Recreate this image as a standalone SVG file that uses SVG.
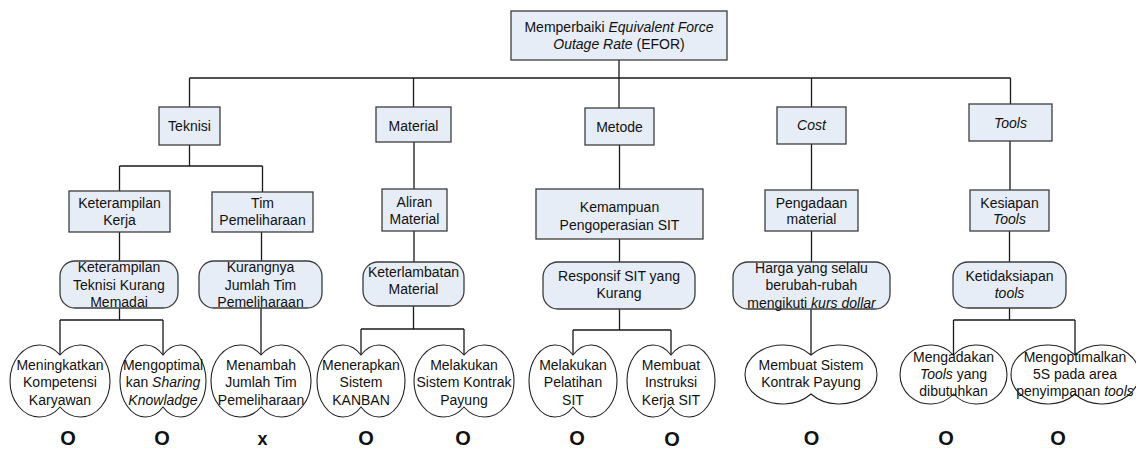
<svg xmlns="http://www.w3.org/2000/svg" width="1136" height="449" viewBox="0 0 1136 449">
<style>
text{font-family:"Liberation Sans",Arial,sans-serif;font-size:14px;fill:#111;text-anchor:middle}
.i{font-style:italic}
.box{fill:#e7edf7;stroke:#3c3c3c;stroke-width:1.3}
.cl{fill:#fff;stroke:#222;stroke-width:1.1}
.con{fill:none;stroke:#1a1a1a;stroke-width:1.3}
.mk{font-size:20px;font-weight:bold}
.mx{font-size:18px;font-weight:bold}
</style>
<rect width="1136" height="449" fill="#fff"/>
<g id="connectors" class="con">
<path d="M619 60V108M189.5 78H1010.5M189.5 78V107M413.5 78V107M811.5 78V107M1010.5 78V104"/>
<path d="M189.5 145V166M119.5 166H262.5M119.5 166V191M262.5 166V192M414 142V189M619.5 145V189M811.5 144V190M1010 141V190"/>
<path d="M119.5 232V261M261.5 232V261M414 231V262M619.5 239V262M811.5 231V262M1009.5 231V262"/>
<path d="M119.5 308V320M60 320H163M60 320V355M163 320V355M261 308V355M413.5 306V329M361 329H464M361 329V355M464 329V355M619.5 309V330M573 330H671M573 330V355M671 330V355M811 309V355M1009.5 308V320M953.5 320H1075M953.5 320V355M1075 320V355"/>
</g>
<g id="n-top"><rect class="box" x="511" y="11" width="216" height="49"/><text x="619" y="31.5">Memperbaiki <tspan class="i">Equivalent Force</tspan></text><text x="619" y="49"><tspan class="i">Outage Rate</tspan> (EFOR)</text></g>
<g id="n-teknisi"><rect class="box" x="159" y="107" width="61" height="38"/><text x="189.5" y="131">Teknisi</text></g>
<g id="n-material"><rect class="box" x="376" y="107" width="75" height="35"/><text x="413.5" y="130.5">Material</text></g>
<g id="n-metode"><rect class="box" x="585" y="108" width="69" height="37"/><text x="619.5" y="132">Metode</text></g>
<g id="n-cost"><rect class="box" x="777" y="107" width="69" height="37"/><text class="i" x="811.5" y="130">Cost</text></g>
<g id="n-tools"><rect class="box" x="969" y="104" width="83" height="37"/><text class="i" x="1010.5" y="127.5">Tools</text></g>
<g id="n-kk"><rect class="box" x="69" y="191" width="101" height="41"/><text x="119.5" y="207.5">Keterampilan</text><text x="119.5" y="225">Kerja</text></g>
<g id="n-tim"><rect class="box" x="212" y="192" width="101" height="40"/><text x="262.5" y="207.5">Tim</text><text x="262.5" y="225">Pemeliharaan</text></g>
<g id="n-aliran"><rect class="box" x="382" y="189" width="65" height="42"/><text x="414.5" y="206.5">Aliran</text><text x="414.5" y="223.5">Material</text></g>
<g id="n-kemampuan"><rect class="box" x="536" y="189" width="167" height="50"/><text x="619.5" y="211.5">Kemampuan</text><text x="619.5" y="229.5">Pengoperasian SIT</text></g>
<g id="n-pengadaan"><rect class="box" x="765" y="190" width="93" height="41"/><text x="811.5" y="207.5">Pengadaan</text><text x="811.5" y="224">material</text></g>
<g id="n-kesiapan"><rect class="box" x="970" y="190" width="79" height="41"/><text x="1009.5" y="207.5">Kesiapan</text><text class="i" x="1009.5" y="224">Tools</text></g>
<g id="n-kkm"><rect class="box" x="60" y="261" width="118" height="47" rx="15"/><text x="119" y="272">Keterampilan</text><text x="119" y="289.5">Teknisi Kurang</text><text x="119" y="307">Memadai</text></g>
<g id="n-kurangnya"><rect class="box" x="199" y="261" width="123" height="47" rx="15"/><text x="260.5" y="272">Kurangnya</text><text x="260.5" y="289.5">Jumlah Tim</text><text x="260.5" y="307">Pemeliharaan</text></g>
<g id="n-keterlambatan"><rect class="box" x="363" y="262" width="101" height="44" rx="15"/><text x="413.5" y="276.5">Keterlambatan</text><text x="413.5" y="294">Material</text></g>
<g id="n-responsif"><rect class="box" x="543" y="262" width="152" height="47" rx="15"/><text x="619" y="280.5">Responsif SIT yang</text><text x="619" y="298">Kurang</text></g>
<g id="n-harga"><rect class="box" x="733" y="262" width="157" height="47" rx="15"/><text x="811.5" y="272.5">Harga yang selalu</text><text x="811.5" y="290">berubah-rubah</text><text x="811.5" y="307.5">mengikuti <tspan class="i">kurs dollar</tspan></text></g>
<g id="n-ketidaksiapan"><rect class="box" x="953" y="262" width="113" height="46" rx="15"/><text x="1009.5" y="280.5">Ketidaksiapan</text><text class="i" x="1009.5" y="298">tools</text></g>
<g id="c1"><path class="cl" d="M60 355A29.57 36 0 1 1 60 407A29.57 36 0 1 1 60 355Z"/><text x="60" y="369.5">Meningkatkan</text><text x="60" y="387">Kompetensi</text><text x="60" y="404.5">Karyawan</text></g>
<g id="c2"><path class="cl" d="M163 355A25.43 36 0 1 1 163 407A25.43 36 0 1 1 163 355Z"/><text x="163" y="369.5">Mengoptimal</text><text x="163" y="387">kan <tspan class="i">Sharing</tspan></text><text class="i" x="163" y="404.5">Knowladge</text></g>
<g id="c3"><path class="cl" d="M261 355A29.57 36 0 1 1 261 407A29.57 36 0 1 1 261 355Z"/><text x="261" y="369.5">Menambah</text><text x="261" y="387">Jumlah Tim</text><text x="261" y="404.5">Pemeliharaan</text></g>
<g id="c4"><path class="cl" d="M361 355A26.02 36 0 1 1 361 407A26.02 36 0 1 1 361 355Z"/><text x="361" y="369.5">Menerapkan</text><text x="361" y="387">Sistem</text><text x="361" y="404.5">KANBAN</text></g>
<g id="c5"><path class="cl" d="M464 355A29.57 36 0 1 1 464 407A29.57 36 0 1 1 464 355Z"/><text x="464" y="369.5">Melakukan</text><text x="464" y="387">Sistem Kontrak</text><text x="464" y="404.5">Payung</text></g>
<g id="c6"><path class="cl" d="M573 355A26.02 36 0 1 1 573 407A26.02 36 0 1 1 573 355Z"/><text x="573" y="369.5">Melakukan</text><text x="573" y="387">Pelatihan</text><text x="573" y="404.5">SIT</text></g>
<g id="c7"><path class="cl" d="M671 355A26.02 36 0 1 1 671 407A26.02 36 0 1 1 671 355Z"/><text x="671" y="369.5">Membuat</text><text x="671" y="387">Instruksi</text><text x="671" y="404.5">Kerja SIT</text></g>
<g id="c8"><path class="cl" d="M811 355A37.71 29.5 0 1 1 811 394A37.71 29.5 0 1 1 811 355Z"/><text x="811" y="370">Membuat Sistem</text><text x="811" y="387">Kontrak Payung</text></g>
<g id="c9"><path class="cl" d="M953.5 355A30.57 29.5 0 1 1 953.5 394A30.57 29.5 0 1 1 953.5 355Z"/><text x="953.5" y="362">Mengadakan</text><text x="953.5" y="379"><tspan class="i">Tools</tspan> yang</text><text x="953.5" y="396">dibutuhkan</text></g>
<g id="c10"><path class="cl" d="M1075 355A36.57 29.5 0 1 1 1075 394A36.57 29.5 0 1 1 1075 355Z"/><text x="1075" y="362">Mengoptimalkan</text><text x="1075" y="379">5S pada area</text><text x="1075" y="396">penyimpanan <tspan class="i">tools</tspan></text></g>
<g id="marks">
<text class="mk" x="68" y="445">O</text>
<text class="mk" x="162" y="445">O</text>
<text class="mx" x="262.5" y="445">x</text>
<text class="mk" x="366" y="445">O</text>
<text class="mk" x="463" y="445">O</text>
<text class="mk" x="577" y="445">O</text>
<text class="mk" x="672" y="446">O</text>
<text class="mk" x="811.5" y="445">O</text>
<text class="mk" x="946" y="445">O</text>
<text class="mk" x="1058" y="445">O</text>
</g>
</svg>
